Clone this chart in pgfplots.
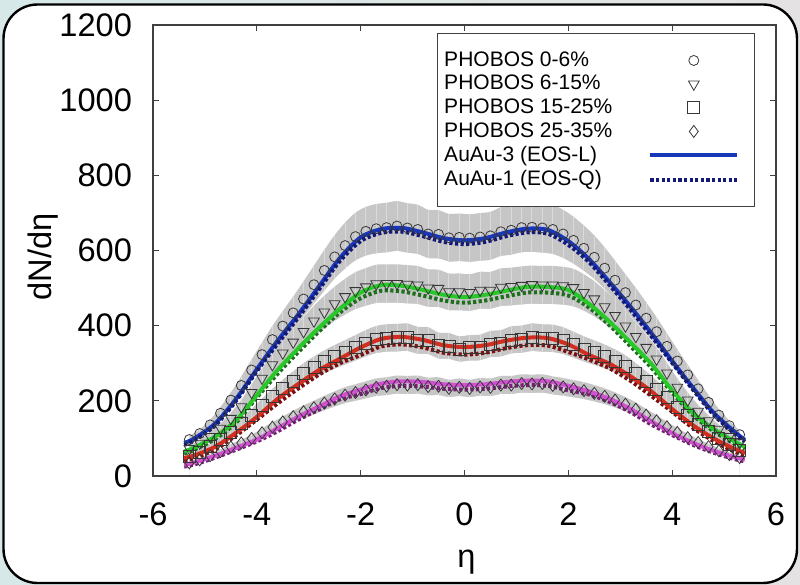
\documentclass[border=0pt]{standalone}
\usepackage{fontspec}
\setmainfont{Liberation Sans}
\usepackage{pgfplots}
\pgfplotsset{compat=1.18}
\usepackage{pgfplotstable}

\definecolor{cblue}{RGB}{25,55,185}
\definecolor{cblueq}{RGB}{20,25,120}
\definecolor{cgreen}{RGB}{40,200,40}
\definecolor{cgreenq}{RGB}{30,110,30}
\definecolor{cred}{RGB}{210,45,30}
\definecolor{credq}{RGB}{125,15,15}
\definecolor{cmag}{RGB}{210,80,210}
\definecolor{cmagq}{RGB}{120,30,120}
\definecolor{bandgray}{RGB}{198,198,198}
\definecolor{stripe}{RGB}{218,218,218}
\definecolor{mk}{RGB}{55,55,55}

\pgfplotstableread{
eta b bq g gq r rq m mq
-5.4 88 83 65 59 48 41 30 25
-5.2 100 95 76 70 55 48 36 31
-4.8 140 135 105 99 78 71 54 49
-4.4 205 200 148 142 115 108 75 70
-4.0 284 279 215 209 157 150 97 92
-3.6 360 352 282 272 205 193 127 119
-3.2 430 422 340 330 245 233 158 150
-2.8 505 497 395 385 282 270 185 177
-2.4 580 572 445 435 312 300 212 204
-2.0 635 625 488 473 342 322 230 218
-1.6 657 647 508 493 365 345 246 234
-1.2 660 650 506 491 370 350 252 240
-0.8 648 638 495 480 362 342 250 238
-0.4 633 623 482 467 348 328 244 232
0.0 627 617 476 461 343 323 242 230
0.4 633 623 482 467 348 328 244 232
0.8 648 638 493 478 360 340 250 238
1.2 658 648 503 488 368 348 254 242
1.6 655 645 503 488 367 347 252 240
2.0 625 615 495 480 350 330 240 228
2.4 577 569 458 448 322 310 225 217
2.8 515 507 410 400 298 286 205 197
3.2 450 442 355 345 265 253 178 170
3.6 380 372 298 288 225 213 145 137
4.0 306 301 228 222 178 171 114 109
4.4 235 230 168 162 135 128 88 83
4.8 168 163 125 119 100 93 67 62
5.2 118 113 92 86 72 65 50 45
5.4 96 91 78 72 62 55 44 39
}\curves

\pgfplotstableread{
eta d0 d1 d2 d3
-5.3 97 73 53 35
-5.1 113 87 64 43
-4.9 136 105 79 54
-4.7 167 127 97 65
-4.5 202 153 117 77
-4.3 241 184 139 88
-4.1 282 222 162 100
-3.9 323 260 187 115
-3.7 363 296 211 130
-3.5 399 327 233 144
-3.3 434 356 253 158
-3.1 471 384 273 171
-2.9 509 412 289 182
-2.7 547 436 304 194
-2.5 583 458 317 205
-2.3 613 477 329 215
-2.1 637 493 341 222
-1.9 651 503 353 229
-1.7 658 511 363 236
-1.5 661 512 367 239
-1.3 665 512 368 243
-1.1 660 510 369 242
-0.9 656 508 361 243
-0.7 644 500 360 238
-0.5 643 499 347 239
-0.3 634 490 346 233
-0.1 635 490 338 236
0.1 633 488 341 233
0.3 636 494 342 237
0.5 639 494 351 236
0.7 650 502 353 242
0.9 654 504 362 242
1.1 661 507 364 246
1.3 662 509 369 245
1.5 660 508 367 246
1.7 656 508 366 241
1.9 644 506 360 237
2.1 627 501 349 232
2.3 606 488 338 227
2.5 582 471 328 220
2.7 553 450 318 212
2.9 521 427 306 202
3.1 488 399 292 191
3.3 455 371 273 178
3.5 420 342 253 162
3.7 384 311 231 147
3.9 345 274 208 131
4.1 306 236 183 116
4.3 269 202 160 102
4.5 232 172 138 89
4.7 196 147 118 78
4.9 162 124 100 67
5.1 134 105 83 57
5.3 110 88 69 49
}\data

\pgfplotsset{
  bandtop/.style={forget plot, draw=none, fill=bandgray, smooth},
  bandbot/.style={forget plot, draw=none, fill=white, smooth},
  stripes/.style={forget plot, draw=none, mark=none,
    error bars/.cd, y dir=both, y fixed relative=0.1, error mark=none,
    error bar style={draw=stripe, line width=0.5pt, solid}},
  qline/.style={line width=2pt, smooth, no marks, dash pattern=on 1.6pt off 1.2pt},
  lline/.style={line width=2pt, smooth, no marks},
}

\begin{document}
\begin{tikzpicture}
\shade[left color={rgb,255:red,214;green,232;blue,232}, right color={rgb,255:red,228;green,226;blue,226}] (0pt,0pt) rectangle (400pt,292.5pt);
\draw[line width=1.2pt, fill=white, rounded corners=17pt] (1.75pt,1pt) rectangle (398.5pt,290.25pt);
\begin{axis}[
  at={(76.5pt,54.5pt)}, anchor=south west,
  scale only axis, width=311.5pt, height=225.5pt,
  xmin=-6, xmax=6, ymin=0, ymax=1200,
  xtick={-6,-4,...,6}, ytick={0,200,...,1200},
  axis on top,
  tick align=inside, major tick length=3pt,
  axis line style={line width=0.7pt, black!75},
  every tick/.style={black!75, line width=0.5pt},
  /pgf/number format/assume math mode=true,
  /pgf/number format/1000 sep={},
  tick label style={font=\fontsize{16.3}{17}\selectfont},
  yticklabel style={xshift=-7pt},
  xticklabel style={yshift=-10pt},
  xlabel={η}, ylabel={dN/dη},
  label style={font=\fontsize{16.3}{17}\selectfont},
  xlabel style={at={(axis description cs:0.503,-0.19)}, anchor=center},
  ylabel style={at={(axis description cs:-0.176,0.486)}, anchor=center},
  legend cell align=left,
  legend plot pos=right,
  legend image code/.code={\draw[mark repeat=2,mark phase=2,#1] plot coordinates {(0pt,0pt) (21.75pt,0pt) (43.5pt,0pt)}; \path (49.5pt,0pt);},
  legend style={at={(0.966,0.982)}, anchor=north east, draw=black!75, line width=0.5pt,
    font=\fontsize{10.5}{12}\selectfont, column sep=16pt, row sep=-1pt,
    inner xsep=1.5pt, inner ysep=7pt},
]
% systematic error bands (10%), drawn from the top band down
\addplot[bandtop] table[x=eta, y expr=1.1*\thisrow{d0}] {\data} \closedcycle;
\addplot[bandbot] table[x=eta, y expr=0.9*\thisrow{d0}] {\data} \closedcycle;
\addplot[bandtop] table[x=eta, y expr=1.1*\thisrow{d1}] {\data} \closedcycle;
\addplot[bandbot] table[x=eta, y expr=0.9*\thisrow{d1}] {\data} \closedcycle;
\addplot[bandtop] table[x=eta, y expr=1.1*\thisrow{d2}] {\data} \closedcycle;
\addplot[bandbot] table[x=eta, y expr=0.9*\thisrow{d2}] {\data} \closedcycle;
\addplot[bandtop] table[x=eta, y expr=1.1*\thisrow{d3}] {\data} \closedcycle;
\addplot[bandbot] table[x=eta, y expr=0.9*\thisrow{d3}] {\data} \closedcycle;
\addplot[stripes] table[x=eta, y=d0] {\data};
\addplot[stripes] table[x=eta, y=d1] {\data};
\addplot[stripes] table[x=eta, y=d2] {\data};
\addplot[stripes] table[x=eta, y=d3] {\data};
% PHOBOS data
\addplot[only marks, mark=o, mark size=2.5pt, mark options={draw=mk, fill=none, line width=0.4pt}] table[x=eta, y=d0] {\data};
\addlegendentry{PHOBOS 0-6\%}
\addplot[only marks, mark=triangle, mark size=3.1pt, mark options={draw=mk, fill=none, line width=0.4pt, rotate=180}] table[x=eta, y=d1] {\data};
\addlegendentry{PHOBOS 6-15\%}
\addplot[only marks, mark=square, mark size=3pt, mark options={draw=mk, fill=none, line width=0.4pt}] table[x=eta, y=d2] {\data};
\addlegendentry{PHOBOS 15-25\%}
\addplot[only marks, mark=diamond, mark size=3pt, mark options={draw=mk, fill=none, line width=0.4pt}] table[x=eta, y=d3] {\data};
\addlegendentry{PHOBOS 25-35\%}
% hydro curves
\addplot[cblue, lline] table[x=eta, y=b] {\curves};
\addlegendentry{AuAu-3 (EOS-L)}
\addplot[cblueq, qline] table[x=eta, y=bq] {\curves};
\addlegendentry{AuAu-1 (EOS-Q)}
\addplot[forget plot, cgreenq, qline] table[x=eta, y=gq] {\curves};
\addplot[forget plot, cgreen, lline] table[x=eta, y=g] {\curves};
\addplot[forget plot, credq, qline] table[x=eta, y=rq] {\curves};
\addplot[forget plot, cred, lline] table[x=eta, y=r] {\curves};
\addplot[forget plot, cmagq, qline] table[x=eta, y=mq] {\curves};
\addplot[forget plot, cmag, lline] table[x=eta, y=m] {\curves};
\end{axis}
\end{tikzpicture}
\end{document}
